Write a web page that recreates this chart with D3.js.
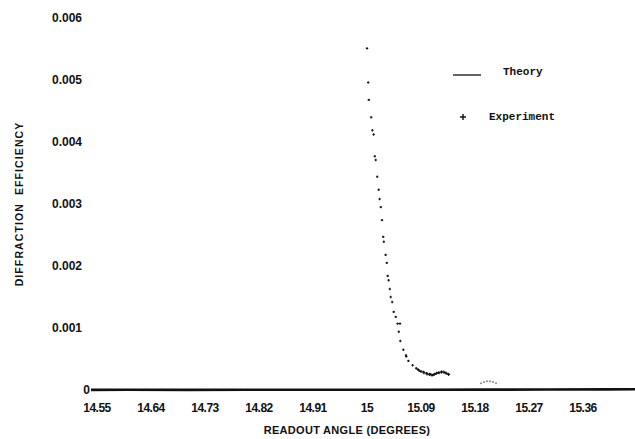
<!DOCTYPE html>
<html><head><meta charset="utf-8">
<script src="https://cdn.jsdelivr.net/npm/d3@7"></script>
<style>body{margin:0;background:#fff}svg{display:block}</style>
</head><body>
<script>
// Tick labels
const xTicks = [14.55, 14.64, 14.73, 14.82, 14.91, 15, 15.09, 15.18, 15.27, 15.36];
const yTicks = [0, 0.001, 0.002, 0.003, 0.004, 0.005, 0.006];

// Experiment (readout angle in degrees, diffraction efficiency)
const expAngle = [15.000, 15.002, 15.003, 15.007, 15.009, 15.011, 15.013, 15.0145, 15.017, 15.0195,
  15.021, 15.023, 15.025, 15.027, 15.028, 15.031, 15.033, 15.0345, 15.036, 15.038,
  15.0395, 15.042, 15.0445, 15.048, 15.051, 15.055, 15.053, 15.0555, 15.0605, 15.065,
  15.0655, 15.069, 15.076, 15.082, 15.087, 15.094, 15.0995, 15.105, 15.1095, 15.113,
  15.119, 15.1245, 15.13, 15.1355];
const expEff = [0.00551, 0.00496, 0.00468, 0.00440, 0.00419, 0.00412, 0.00377, 0.00371, 0.00344, 0.00323,
  0.00308, 0.00295, 0.00274, 0.00247, 0.00239, 0.00218, 0.00205, 0.00184, 0.00177, 0.00163,
  0.00150, 0.00142, 0.00126, 0.00118, 0.00107, 0.00107, 0.00094, 0.00079, 0.00065, 0.00056,
  0.00054, 0.00047, 0.00040, 0.00035, 0.00031, 0.00029, 0.00027, 0.00026, 0.00024, 0.00026,
  0.00028, 0.00029, 0.00028, 0.00026];
// dense tail section of the experiment trace
const tailAngle = [15.085, 15.09, 15.095, 15.1, 15.104, 15.108, 15.112, 15.116, 15.12, 15.124, 15.128, 15.132, 15.136];
const tailEff = [0.00033, 0.00030, 0.00028, 0.00026, 0.00025, 0.00024, 0.00025, 0.00027, 0.00028, 0.00029, 0.00029, 0.00027, 0.00025];
// small side lobe near 15.2
const lobeAngle = [15.19, 15.195, 15.2, 15.205, 15.21, 15.215];
const lobeEff = [0.00011, 0.00013, 0.00014, 0.00014, 0.00013, 0.00011];

// Theory curve (near zero across the range)
const theoryAngle = [14.54, 14.6, 14.7, 14.8, 14.9, 15.0, 15.1, 15.2, 15.3, 15.4, 15.45];
const theoryEff = [0.000002, 0.000003, 0.000002, 0.000004, 0.000003, 0.000004, 0.000005, 0.000006, 0.000008, 0.00001, 0.000012];

const W = 635, H = 439;
const svg = d3.select("body").append("svg").attr("width", W).attr("height", H);

const x = d3.scaleLinear().domain([14.55, 15.36]).range([97, 583]);
const y = d3.scaleLinear().domain([0, 0.006]).range([390, 18]);

const font = "'Liberation Sans', Arial, sans-serif";

// y tick labels
svg.append("g").selectAll("text").data(yTicks).join("text")
  .attr("x", d => d === 0 ? 90 : 82)
  .attr("y", d => y(d))
  .attr("dy", "0.35em")
  .attr("text-anchor", "end")
  .attr("font-family", font).attr("font-size", 12).attr("font-weight", "bold").attr("fill", "#111")
  .text(d => d === 0 ? "0" : d3.format(".3f")(d));

// x tick labels
svg.append("g").selectAll("text").data(xTicks).join("text")
  .attr("x", d => x(d))
  .attr("y", 412)
  .attr("text-anchor", "middle")
  .attr("font-family", font).attr("font-size", 12).attr("font-weight", "bold").attr("fill", "#111")
  .attr("letter-spacing", "-0.5")
  .text(d => String(d));

// axis titles
svg.append("text").attr("x", 347).attr("y", 434).attr("text-anchor", "middle")
  .attr("font-family", font).attr("font-size", 11).attr("font-weight", "bold").attr("fill", "#111")
  .attr("letter-spacing", "0.3")
  .text("READOUT ANGLE (DEGREES)");
svg.append("text").attr("transform", "translate(23,204) rotate(-90)").attr("text-anchor", "middle")
  .attr("font-family", font).attr("font-size", 10.5).attr("font-weight", "bold").attr("fill", "#111")
  .attr("letter-spacing", "1.1").attr("word-spacing", "4")
  .text("DIFFRACTION EFFICIENCY");

// theory line
const line = d3.line().x((d, i) => x(theoryAngle[i])).y(d => y(d));
svg.append("path").datum(theoryEff).attr("d", line)
  .attr("fill", "none").attr("stroke", "#111").attr("stroke-width", 2.6);

// experiment markers
const plus = (g, ax, ef, s, col) => g.selectAll(null).data(ef).join("path")
  .attr("d", (d, i) => {
    const cx = x(ax[i]), cy = y(d);
    return `M${cx - s},${cy}H${cx + s}M${cx},${cy - s}V${cy + s}`;
  })
  .attr("stroke", col).attr("stroke-width", 1.1).attr("fill", "none");

const g = svg.append("g");
plus(g, expAngle, expEff, 1.2, "#111");
plus(g, tailAngle, tailEff, 1.5, "#111");
plus(g, lobeAngle, lobeEff, 1.0, "#888");

// legend
svg.append("line").attr("x1", 453).attr("x2", 481).attr("y1", 75).attr("y2", 75)
  .attr("stroke", "#111").attr("stroke-width", 1.3);
svg.append("text").attr("x", 503).attr("y", 71).attr("dy", "0.35em")
  .attr("font-family", "'Liberation Mono', 'Courier New', monospace").attr("font-size", 11).attr("font-weight", "bold").attr("fill", "#111")
  .text("Theory");
svg.append("path").attr("d", "M460,117H466M463,114V120").attr("stroke", "#111").attr("stroke-width", 1.4);
svg.append("text").attr("x", 489).attr("y", 116).attr("dy", "0.35em")
  .attr("font-family", "'Liberation Mono', 'Courier New', monospace").attr("font-size", 11).attr("font-weight", "bold").attr("fill", "#111")
  .text("Experiment");
</script>
</body></html>
